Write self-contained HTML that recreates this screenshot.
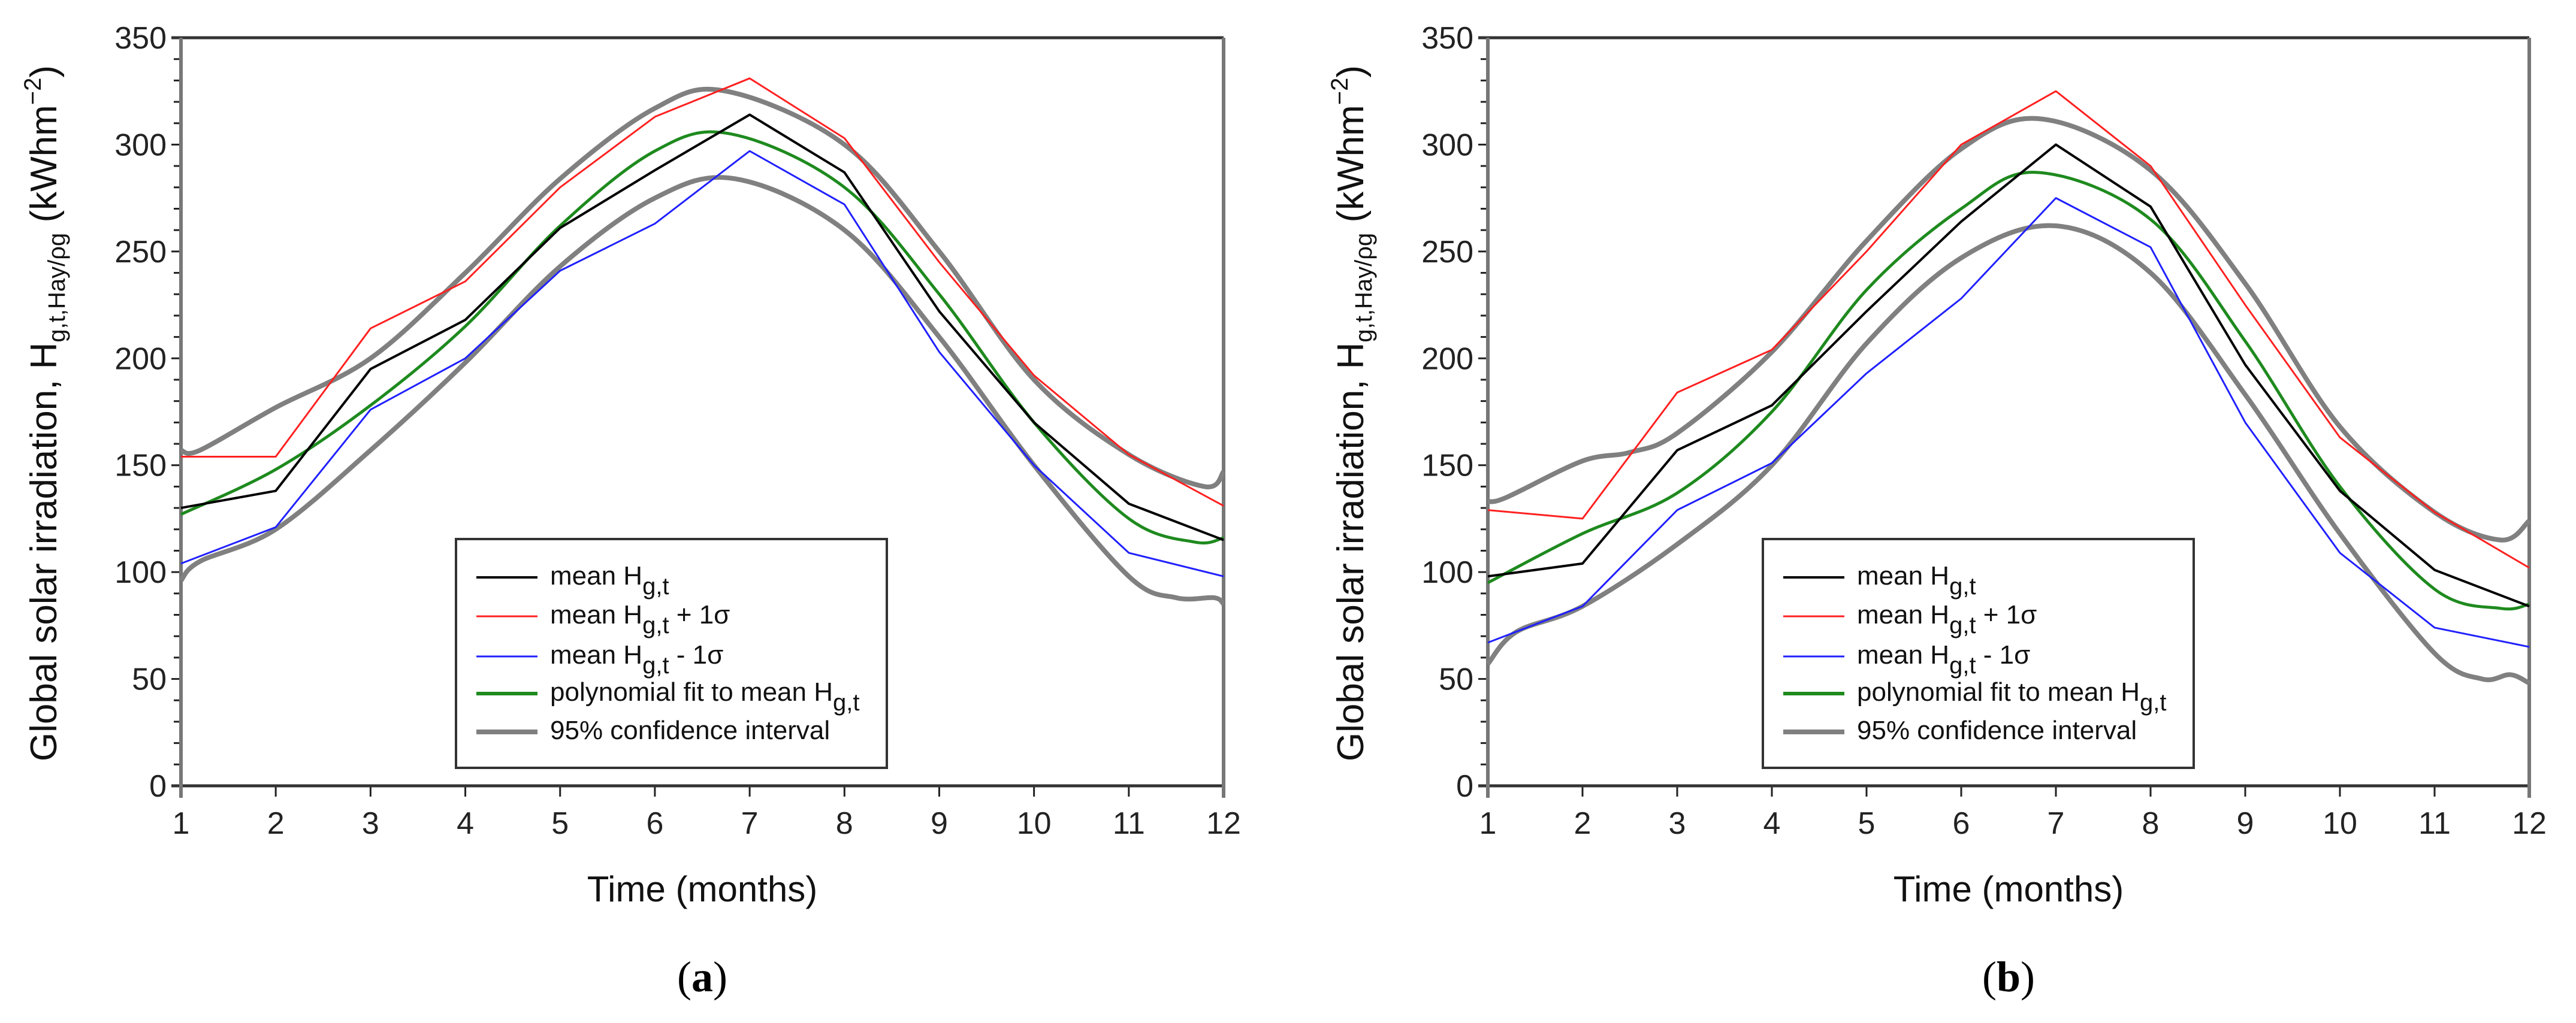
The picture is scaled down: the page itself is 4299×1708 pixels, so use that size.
<!DOCTYPE html>
<html><head><meta charset="utf-8"><style>
html,body{margin:0;padding:0;background:#fff;}
svg{display:block;font-family:"Liberation Sans",Arial,sans-serif;}
</style></head><body>
<svg id="s" width="4299" height="1708" viewBox="0 0 4299 1708" xmlns="http://www.w3.org/2000/svg"></svg>
<script>
const months=[1,2,3,4,5,6,7,8,9,10,11,12];
const yTicks=[0,50,100,150,200,250,300,350];
// Panel a
const aMean=[130,138,195,218,261,288,314,287,222,170,132,115];
const aPlus=[154,154,214,236,280,313,331,303,245,192,155,131];
const aMinus=[104,121,176,200,241,263,297,272,203,150,109,98];
const aFitX=[1,2,3,4,5,6,6.8,8,9,10,11,11.7,12];
const aFitY=[127,148,178,215,262,297,305,280,230,170,125,114,116];
const aUpX=[1,1.2,2,3,4,5,6,6.75,8,9,10,11,11.8,12];
const aUpY=[157,157,177,200,240,284,317,325,300,250,190,155,140,147];
const aLoX=[1,1.2,2,3,4,5,6,6.85,8,9,10,11,11.5,11.9,12];
const aLoY=[96,105,120,157,198,243,275,284,260,210,150,98,88,88,85];
// Panel b
const bMean=[98,104,157,178,222,264,300,271,197,138,101,84];
const bPlus=[129,125,184,204,250,300,325,290,225,163,128,102];
const bMinus=[67,84,129,151,193,228,275,252,170,109,74,65];
const bFitX=[1,2,3,4,5,6,6.8,8,9,10,11,11.7,12];
const bFitY=[95,118,137,175,232,270,287,265,208,140,92,83,85];
const bUpX=[1,1.2,2,2.5,3,4,5,6,6.85,8,9,10,11,11.7,12];
const bUpY=[133,135,152,156,165,203,255,298,312,288,235,168,128,115,124];
const bLoX=[1,1.3,2,3,4,5,6,7,8,9,10,11,11.5,11.8,12];
const bLoY=[57,72,84,113,150,207,247,262,240,183,118,62,50,52,48];

const NS="http://www.w3.org/2000/svg";
const svg=document.getElementById('s');
function el(tag,attrs,parent,txt){const e=document.createElementNS(NS,tag);for(const k in attrs)e.setAttribute(k,attrs[k]);if(txt!==undefined)e.textContent=txt;(parent||svg).appendChild(e);return e;}

function smooth(pts){let d="M"+pts[0][0]+","+pts[0][1];for(let i=0;i<pts.length-1;i++){const p0=pts[i-1]||pts[i],p1=pts[i],p2=pts[i+1],p3=pts[i+2]||p2;
const c1x=p1[0]+(p2[0]-p0[0])/6,c1y=p1[1]+(p2[1]-p0[1])/6,c2x=p2[0]-(p3[0]-p1[0])/6,c2y=p2[1]-(p3[1]-p1[1])/6;
d+=" C"+c1x+","+c1y+" "+c2x+","+c2y+" "+p2[0]+","+p2[1];}return d;}

function panel(id,X0,X1,label,series){
  const Y0=1312,Y1=63;
  const sx=m=>X0+(m-1)*(X1-X0)/11, sy=v=>Y0-v*(Y0-Y1)/350;
  const g=el('g',{},svg);
  
  
  for(let v=0;v<=350;v+=10){const t=el('line',{x1:X0-(v%50===0?16:12),x2:X0,y1:sy(v),y2:sy(v),stroke:'#222','stroke-width':3},g);
    }
  yTicks.forEach(v=>{const t=el('text',{x:X0-24,y:sy(v)+18,'text-anchor':'end','font-size':52,fill:'#222'},g,String(v));
    });
  months.forEach(m=>{const t=el('line',{x1:sx(m),x2:sx(m),y1:Y0,y2:Y0+18,stroke:'#222','stroke-width':3},g);
    
    const l=el('text',{x:sx(m),y:Y0+80,'text-anchor':'middle','font-size':52,fill:'#222'},g,String(m));
    });
  const f1=el('line',{x1:X0-16,x2:X1,y1:Y1,y2:Y1,stroke:'#333','stroke-width':5},g);
  const f2=el('line',{x1:X0-16,x2:X1,y1:Y0,y2:Y0,stroke:'#333','stroke-width':5},g);
  const f3=el('line',{x1:X0,x2:X0,y1:Y1,y2:Y0+20,stroke:'#777','stroke-width':6},g);
  const f4=el('line',{x1:X1,x2:X1,y1:Y1,y2:Y0+20,stroke:'#777','stroke-width':6},g);
  series.forEach(s=>{const pts=s.x.map((m,i)=>[sx(m),sy(s.y[i])]);
    const d=s.smooth?smooth(pts):"M"+pts.map(p=>p[0]+","+p[1]).join(" L");
    const p=el('path',{d:d,fill:'none',stroke:s.c,'stroke-width':s.w,'stroke-linejoin':'round'},g);
    });
  const xt=el('text',{x:(X0+X1)/2,y:1505,'text-anchor':'middle','font-size':60,fill:'#111'},g,'Time (months)');
  
  const yt=el('text',{transform:'translate('+(X0-208)+',690) rotate(-90)','text-anchor':'middle','font-size':62,fill:'#111'},g);
  
  el('tspan',{},yt,'Global solar irradiation, H');
  el('tspan',{'font-size':40,dy:14},yt,'g,t,Hay/ρg');
  el('tspan',{dy:-14},yt,' (kWhm');
  el('tspan',{'font-size':40,dy:-26},yt,'−2');
  el('tspan',{dy:26},yt,')');
  const LX=X0+459,LY=900,LW=719,LH=382;
  const lg=el('g',{},g);
  el('rect',{x:LX,y:LY,width:LW,height:LH,fill:'#fff',stroke:'#333','stroke-width':4},lg);
  const items=[['#000',4,'mean H','g,t',''],['#ff2020',3,'mean H','g,t',' + 1σ'],['#2020ff',3,'mean H','g,t',' - 1σ'],['#1e8a1e',6,'polynomial fit to mean H','g,t',''],['#808080',8,'95% confidence interval','','']];
  const rows=[964,1029,1096,1158,1222];
  items.forEach((it,i)=>{const e=el('g',{},lg);
    el('line',{x1:LX+34,x2:LX+136,y1:rows[i],y2:rows[i],stroke:it[0],'stroke-width':it[1]},e);
    const t=el('text',{x:LX+157,y:rows[i]+12,'font-size':44,fill:'#111'},e);
    el('tspan',{},t,it[2]);if(it[3]){el('tspan',{'font-size':40,dy:16},t,it[3]);el('tspan',{dy:-16},t,it[4]);}});
  const pl=el('text',{x:(X0+X1)/2,y:1655,'text-anchor':'middle','font-size':72,fill:'#000','font-family':'"Liberation Serif",serif'},g);
  
  el('tspan',{},pl,'(');el('tspan',{'font-weight':'bold'},pl,label);el('tspan',{},pl,')');
}
function mk(mean,plus,minus,fx,fy,ux,uy,lx,ly){return [
  {name:'upper-confidence-line',x:ux,y:uy,c:'#808080',w:8,smooth:true},
  {name:'lower-confidence-line',x:lx,y:ly,c:'#808080',w:8,smooth:true},
  {name:'polynomial-fit-line',x:fx,y:fy,c:'#1e8a1e',w:5,smooth:true},
  {name:'mean-plus-sigma-line',x:months,y:plus,c:'#ff2020',w:3},
  {name:'mean-minus-sigma-line',x:months,y:minus,c:'#2020ff',w:3},
  {name:'mean-line',x:months,y:mean,c:'#000',w:4}];}
panel('a',302,2042,'a',mk(aMean,aPlus,aMinus,aFitX,aFitY,aUpX,aUpY,aLoX,aLoY));
panel('b',2483,4221,'b',mk(bMean,bPlus,bMinus,bFitX,bFitY,bUpX,bUpY,bLoX,bLoY));
</script>
</body></html>
